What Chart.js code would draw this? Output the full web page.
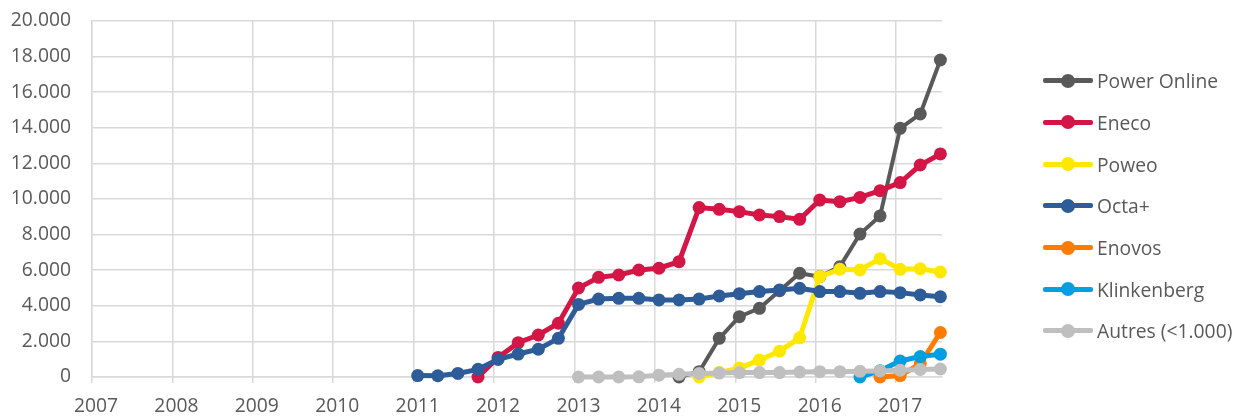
<!DOCTYPE html>
<html>
<head>
<meta charset="utf-8">
<script src="https://cdn.jsdelivr.net/npm/chart.js@4/dist/chart.umd.min.js"></script>
<style>
  html, body { margin: 0; padding: 0; background: #ffffff; }
  #wrap { position: relative; width: 1243px; height: 416px; overflow: hidden; }
  #chart { position: absolute; left: 0; top: 0; }
  #legend { position: absolute; left: 0; top: 0; font-family: "Open Sans", sans-serif; font-size: 19.3px; color: #595959; }
  .item { position: absolute; left: 1043px; height: 24px; display: flex; align-items: center; white-space: nowrap; }
  .mk { position: relative; width: 50px; height: 24px; margin-right: 4px; }
  .bar { position: absolute; left: 0; top: 9.5px; width: 50px; height: 5px; border-radius: 2px; }
  .dot { position: absolute; left: 18px; top: 5px; width: 14px; height: 14px; border-radius: 50%; }
</style>
</head>
<body>
<div id="wrap">
  <canvas id="chart" width="1243" height="416"></canvas>
  <div id="legend"></div>
</div>
<script>
// ---- data (quarterly) ----
const periods = [
  '2011-Q1','2011-Q2','2011-Q3','2011-Q4',
  '2012-Q1','2012-Q2','2012-Q3','2012-Q4',
  '2013-Q1','2013-Q2','2013-Q3','2013-Q4',
  '2014-Q1','2014-Q2','2014-Q3','2014-Q4',
  '2015-Q1','2015-Q2','2015-Q3','2015-Q4',
  '2016-Q1','2016-Q2','2016-Q3','2016-Q4',
  '2017-Q1','2017-Q2','2017-Q3'
];
const yearLabels = ['2007','2008','2009','2010','2011','2012','2013','2014','2015','2016','2017'];
const yTicks = [0,2000,4000,6000,8000,10000,12000,14000,16000,18000,20000];

const seriesNames = ['Power Online','Eneco','Poweo','Octa+','Enovos','Klinkenberg','Autres (<1.000)'];

const powerOnline = [null,null,null,null,null,null,null,null,null,null,null,null,null,
  0,300,2170,3390,3860,4850,5830,5640,6200,8030,9050,13970,14780,17810];
const eneco = [null,null,null,
  0,1100,1930,2360,3020,5000,5600,5730,6010,6110,6480,9520,9420,9290,9100,9010,8860,9940,9850,10090,10470,10920,11910,12530];
const poweo = [null,null,null,null,null,null,null,null,null,null,null,null,null,null,
  0,250,500,950,1450,2200,5640,6050,6010,6650,6050,6080,5900];
const octa = [80,70,200,430,990,1290,1560,2170,4080,4380,4420,4420,4330,4330,4380,4550,4680,4800,4890,4980,4800,4800,4700,4800,4740,4610,4510];
const enovos = [null,null,null,null,null,null,null,null,null,null,null,null,null,null,null,null,null,null,null,null,null,null,null,
  0,80,750,2500];
const klinkenberg = [null,null,null,null,null,null,null,null,null,null,null,null,null,null,null,null,null,null,null,null,null,null,
  0,350,900,1150,1280];
const autres = [null,null,null,null,null,null,null,null,
  0,0,0,10,100,150,200,220,250,250,250,280,300,300,320,340,380,420,450];

// ---- styles ----
const colors = ['#595959','#d31645','#ffe800','#2e5c99','#ff7c00','#00a0e0','#bfbfbf'];
const lineWidths = [4,5,5,5,5,5,5];
const allSeries = [powerOnline, eneco, poweo, octa, enovos, klinkenberg, autres];

function periodToX(p) {
  const y = parseInt(p.slice(0,4),10);
  const q = parseInt(p.slice(6),10);
  return y + (q - 1) * 0.25;
}
function fmt(v) {
  return String(Math.round(v)).replace(/\B(?=(\d{3})+(?!\d))/g, '.');
}

const datasets = allSeries.map((arr, i) => ({
  label: seriesNames[i],
  data: arr.map((v, k) => v === null ? null : ({ x: periodToX(periods[k]), y: v })).filter(d => d !== null),
  borderColor: colors[i],
  backgroundColor: colors[i],
  pointBackgroundColor: colors[i],
  pointBorderColor: colors[i],
  borderWidth: lineWidths[i],
  pointRadius: 6.5,
  pointBorderWidth: 0,
  tension: 0,
  fill: false,
  clip: false,
  order: allSeries.length - i
}));

const gridColor = '#d9d9d9';
const textColor = '#595959';
const font = { family: '"Open Sans", sans-serif', size: 19.3 };

new Chart(document.getElementById('chart'), {
  type: 'line',
  data: { datasets },
  options: {
    responsive: false,
    animation: false,
    devicePixelRatio: 1,
    layout: { padding: { left: 0, right: 301, top: 21, bottom: 0 } },
    plugins: { legend: { display: false }, tooltip: { enabled: false } },
    scales: {
      x: {
        type: 'linear',
        min: 2006.95,
        max: 2017.52,
        afterBuildTicks: (scale) => {
          scale.ticks = yearLabels.map(l => ({ value: parseInt(l, 10) - 0.05 }));
        },
        afterFit: (scale) => { scale.height = 39; },
        ticks: {
          callback: (v, idx) => yearLabels[idx],
          font, color: textColor, padding: 12, labelOffset: 4, maxRotation: 0, autoSkip: false
        },
        grid: { color: gridColor, lineWidth: 1.5, tickLength: 6, drawTicks: true },
        border: { color: gridColor, width: 1.5 }
      },
      y: {
        min: 0,
        max: 20000,
        afterBuildTicks: (scale) => { scale.ticks = yTicks.map(v => ({ value: v })); },
        afterFit: (scale) => { scale.width = 92; },
        ticks: { callback: (v) => fmt(v), font, color: textColor, padding: 0 },
        grid: { color: gridColor, lineWidth: 1.5, drawTicks: true, tickLength: 21, tickColor: 'rgba(0,0,0,0)' },
        border: { color: gridColor, width: 1.5 }
      }
    }
  }
});

// ---- legend (HTML, real text) ----
const legend = document.getElementById('legend');
seriesNames.forEach((name, i) => {
  const item = document.createElement('div');
  item.className = 'item';
  item.style.top = (80.7 + i * 41.7 - 12) + 'px';
  item.innerHTML = '<div class="mk"><div class="bar" style="background:' + colors[i] +
    '"></div><div class="dot" style="background:' + colors[i] + '"></div></div><span>' + name + '</span>';
  legend.appendChild(item);
});
</script>
</body>
</html>
